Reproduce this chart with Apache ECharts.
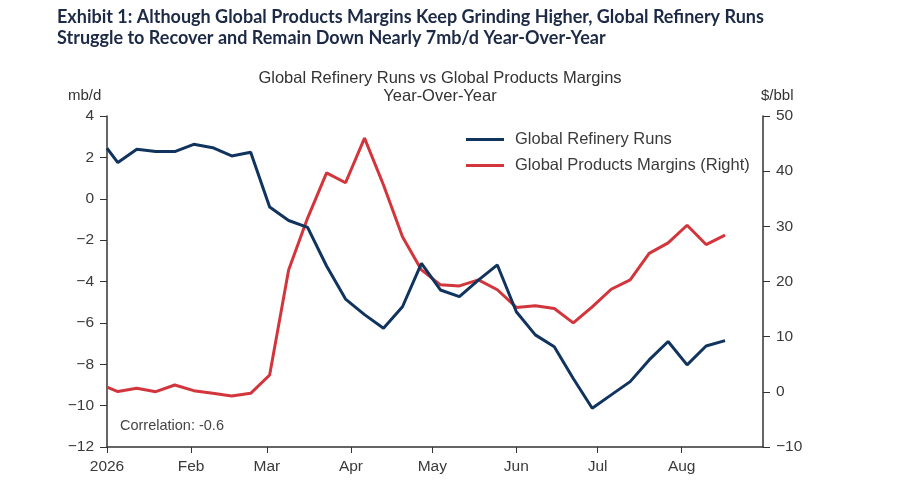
<!DOCTYPE html>
<html>
<head>
<meta charset="utf-8">
<script src="https://cdn.jsdelivr.net/npm/echarts@6/dist/echarts.min.js"></script>
<style>
  html, body { margin: 0; padding: 0; background: #fff; }
  #main { width: 900px; height: 499px; }
</style>
</head>
<body>
<div id="main"></div>
<script>
// weekly observations (first point on Jan 1, then Mondays)
var dates = ['2026-01-01', '2026-01-05', '2026-01-12', '2026-01-19', '2026-01-26',
  '2026-02-02', '2026-02-09', '2026-02-16', '2026-02-23', '2026-03-02', '2026-03-09',
  '2026-03-16', '2026-03-23', '2026-03-30', '2026-04-06', '2026-04-13', '2026-04-20',
  '2026-04-27', '2026-05-04', '2026-05-11', '2026-05-18', '2026-05-25', '2026-06-01',
  '2026-06-08', '2026-06-15', '2026-06-22', '2026-06-29', '2026-07-06', '2026-07-13',
  '2026-07-20', '2026-07-27', '2026-08-03', '2026-08-10', '2026-08-17'];

// mb/d, left axis
var refineryRuns = [2.44, 1.75, 2.39, 2.28, 2.28, 2.63, 2.47, 2.07, 2.25, -0.4, -1.05,
  -1.38, -3.25, -4.85, -5.6, -6.26, -5.22, -3.12, -4.41, -4.73, -3.93, -3.2, -5.46,
  -6.58, -7.15, -8.69, -10.13, -9.48, -8.84, -7.79, -6.9, -8.03, -7.12, -6.86];

// $/bbl, right axis
var productMargins = [0.85, 0.05, 0.64, 0.03, 1.24, 0.21, -0.27, -0.75, -0.27, 3.05, 22.1,
  31.5, 39.7, 37.9, 46.0, 37.5, 28.1, 22.1, 19.4, 19.2, 20.3, 18.5, 15.3, 15.6, 15.1,
  12.5, 15.4, 18.6, 20.3, 25.1, 27.0, 30.2, 26.7, 28.4];

var monthNames = ['Jan', 'Feb', 'Mar', 'Apr', 'May', 'Jun', 'Jul', 'Aug', 'Sep', 'Oct', 'Nov', 'Dec'];

function pair(vals) {
  return vals.map(function (v, i) { return [dates[i], v]; });
}
function minus(v) {
  return String(v).replace('-', '\u2212');
}

var chart = echarts.init(document.getElementById('main'));
var axisColor = '#333';
var labelColor = '#3a3a3a';

var option = {
  animation: false,
  textStyle: { fontFamily: 'Liberation Sans' },
  title: [{
    text: 'Exhibit 1: Although Global Products Margins Keep Grinding Higher, Global Refinery Runs\nStruggle to Recover and Remain Down Nearly 7mb/d Year-Over-Year',
    left: 52, top: 2,
    textStyle: { fontFamily: 'Lato', fontWeight: 'bold', fontSize: 18, color: '#1d2a45', lineHeight: 21 }
  }, {
    text: 'Global Refinery Runs vs Global Products Margins\nYear-Over-Year',
    left: 435, top: 64, textAlign: 'center',
    textStyle: { fontWeight: 'normal', fontSize: 16.5, color: '#333', lineHeight: 18 }
  }],
  legend: {
    orient: 'vertical',
    left: 461, top: 126,
    itemWidth: 38, itemHeight: 3, itemGap: 9,
    icon: 'rect',
    textStyle: { fontSize: 16.5, color: '#3a3a3a', padding: [0, 0, 0, 6] },
    data: ['Global Refinery Runs', 'Global Products Margins (Right)']
  },
  grid: { left: 107, right: 137, top: 116, bottom: 52 },
  xAxis: {
    type: 'time',
    min: '2026-01-01',
    max: '2026-08-31',
    minInterval: 28 * 86400000,
    maxInterval: 31 * 86400000,
    splitLine: { show: false },
    axisLine: { onZero: false, lineStyle: { color: axisColor, width: 1.5 } },
    axisTick: { show: true, length: 6, lineStyle: { color: axisColor } },
    axisLabel: {
      color: labelColor, fontSize: 15.5, margin: 12,
      showMinLabel: true, hideOverlap: false,
      formatter: function (val) {
        var d = new Date(val);
        return d.getMonth() === 0 ? String(d.getFullYear()) : monthNames[d.getMonth()];
      }
    }
  },
  yAxis: [{
    type: 'value',
    min: -12, max: 4, interval: 2,
    splitLine: { show: false },
    axisLine: { show: true, lineStyle: { color: axisColor, width: 1.5 } },
    axisTick: { show: true, length: 7, lineStyle: { color: axisColor } },
    axisLabel: { color: labelColor, fontSize: 15.5, margin: 13, formatter: minus }
  }, {
    type: 'value',
    min: -10, max: 50, interval: 10,
    splitLine: { show: false },
    axisLine: { show: true, lineStyle: { color: axisColor, width: 1.5 } },
    axisTick: { show: true, length: 7, lineStyle: { color: axisColor } },
    axisLabel: { color: labelColor, fontSize: 15.5, margin: 13, formatter: minus }
  }],
  graphic: [
    { type: 'text', left: 68, top: 88, style: { text: 'mb/d', fontSize: 15, fill: '#333', fontFamily: 'Liberation Sans' } },
    { type: 'text', left: 761, top: 88, style: { text: '$/bbl', fontSize: 15, fill: '#333', fontFamily: 'Liberation Sans' } },
    { type: 'text', left: 120, top: 418, style: { text: 'Correlation: -0.6', fontSize: 14.5, fill: '#444', fontFamily: 'Liberation Sans' } }
  ],
  series: [{
    name: 'Global Refinery Runs',
    type: 'line',
    yAxisIndex: 0,
    data: pair(refineryRuns),
    symbol: 'none',
    lineStyle: { color: '#11345f', width: 3 },
    itemStyle: { color: '#11345f' },
    z: 3
  }, {
    name: 'Global Products Margins (Right)',
    type: 'line',
    yAxisIndex: 1,
    data: pair(productMargins),
    symbol: 'none',
    lineStyle: { color: '#d2353b', width: 3 },
    itemStyle: { color: '#d2353b' },
    z: 2
  }]
};

chart.setOption(option);
</script>
</body>
</html>
